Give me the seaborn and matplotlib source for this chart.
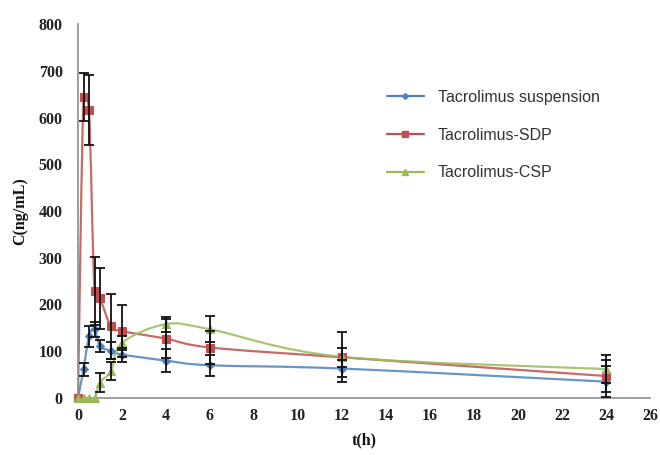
import numpy as np
import pandas as pd
import matplotlib
matplotlib.use("Agg")
import matplotlib.pyplot as plt
from matplotlib.path import Path
from matplotlib.patches import PathPatch
from matplotlib.lines import Line2D
import seaborn as sns

# ---- data ----
time_h = [0, 0.25, 0.5, 0.75, 1, 1.5, 2, 4, 6, 12, 24]
susp = [0, 61, 132, 147, 111, 101, 93, 80, 70, 63, 35]
susp_sd = [0, 13, 23, 16, 12, 18, 15, 24, 22, 18, 33]
sdp = [0, 644, 616, 229, 213, 153, 143, 127, 108, 87, 47]
sdp_sd = [0, 52, 74, 72, 66, 69, 55, 42, 35, 20, 34]
csp = [0, 0, 0, 0, 33, 58, 118, 158, 147, 88, 62]
csp_sd = [0, 0, 0, 0, 20, 20, 15, 16, 28, 53, 30]
series_names = ["Tacrolimus suspension", "Tacrolimus-SDP", "Tacrolimus-CSP"]
x_ticks = list(range(0, 27, 2))
y_ticks = list(range(0, 801, 100))

colors = ["#4F81BD", "#C0504D", "#9BBB59"]
markers = ["D", "s", "^"]
msizes = [4, 6, 6]

sns.set_style("white")
plt.rcParams["font.family"] = ["Liberation Serif", "DejaVu Serif"]

fig = plt.figure(figsize=(6.6, 4.55), dpi=100)
ax = fig.add_axes([78 / 660, 1 - 398 / 455, (650 - 78) / 660, (398 - 24) / 455])


def smooth_path(x, y):
    x = np.asarray(x, float)
    y = np.asarray(y, float)
    n = len(x)
    verts = [(x[0], y[0])]
    codes = [Path.MOVETO]
    for i in range(n - 1):
        a = i - 1 if i > 0 else i
        d = i + 2 if i + 2 < n else i + 1
        lo, hi = min(y[i], y[i + 1]), max(y[i], y[i + 1])
        m = 0.15 * (hi - lo) + 5
        c1y = np.clip(y[i] + (y[i + 1] - y[a]) / 6, lo - m, hi + m)
        c2y = np.clip(y[i + 1] - (y[d] - y[i]) / 6, lo - m, hi + m)
        c1 = (x[i] + (x[i + 1] - x[a]) / 6, c1y)
        c2 = (x[i + 1] - (x[d] - x[i]) / 6, c2y)
        verts += [c1, c2, (x[i + 1], y[i + 1])]
        codes += [Path.CURVE4] * 3
    return Path(verts, codes)


all_vals = [susp, sdp, csp]
all_sd = [susp_sd, sdp_sd, csp_sd]
handles = []
for name, vals, sd, c, m, ms in zip(series_names, all_vals, all_sd, colors, markers, msizes):
    df = pd.DataFrame({"t": time_h, "c": vals, "sd": sd})
    patch = PathPatch(smooth_path(time_h, vals), facecolor="none", edgecolor=c,
                      lw=1.6, alpha=0.85, zorder=2)
    ax.add_patch(patch)
    sns.lineplot(data=df, x="t", y="c", ax=ax, linestyle="", marker=m,
                 markersize=ms, color=c, markeredgecolor=c, errorbar=None,
                 zorder=3, clip_on=False)
    eb = df[df["sd"] > 0]
    ax.errorbar(eb["t"], eb["c"], yerr=eb["sd"], fmt="none", ecolor="#111111",
                elinewidth=1.3, capsize=3.5, capthick=1.3, zorder=4)
    handles.append(Line2D([0], [0], color=c, lw=1.6, marker=m, markersize=ms - 1,
                          markeredgecolor=c))

ax.set_xlim(0, 26)
ax.set_ylim(0, 800)
ax.set_xticks(x_ticks)
ax.set_yticks(y_ticks)
ax.set_xticklabels([str(v) for v in x_ticks])
ax.set_yticklabels([str(v) for v in y_ticks])
ax.tick_params(axis="both", length=0, labelsize=11.5, colors="#222222")
ax.tick_params(axis="y", pad=11)
ax.tick_params(axis="x", pad=7)
for lab in ax.get_xticklabels() + ax.get_yticklabels():
    lab.set_fontweight("bold")

for s in ["top", "right"]:
    ax.spines[s].set_visible(False)
for s in ["left", "bottom"]:
    ax.spines[s].set_color("#8C8C8C")
    ax.spines[s].set_linewidth(1.2)

ax.set_xlabel("t(h)", fontsize=11.5, fontweight="bold", labelpad=6, color="#111111")
ax.set_ylabel("C(ng/mL)", fontsize=11.5, fontweight="bold", labelpad=2, color="#111111")
ax.yaxis.set_label_coords(-0.087, 0.5)

leg = fig.legend(handles, series_names, loc="upper left",
                 bbox_to_anchor=(387 / 660, 1 - 90 / 455), frameon=False,
                 prop={"family": ["Liberation Sans", "DejaVu Sans"], "size": 11.5},
                 handlelength=2.3, handletextpad=0.9, labelspacing=1.42,
                 borderpad=0, borderaxespad=0)
for t in leg.get_texts():
    t.set_color("#333333")

fig.savefig("out.png", dpi=100, facecolor="white")
